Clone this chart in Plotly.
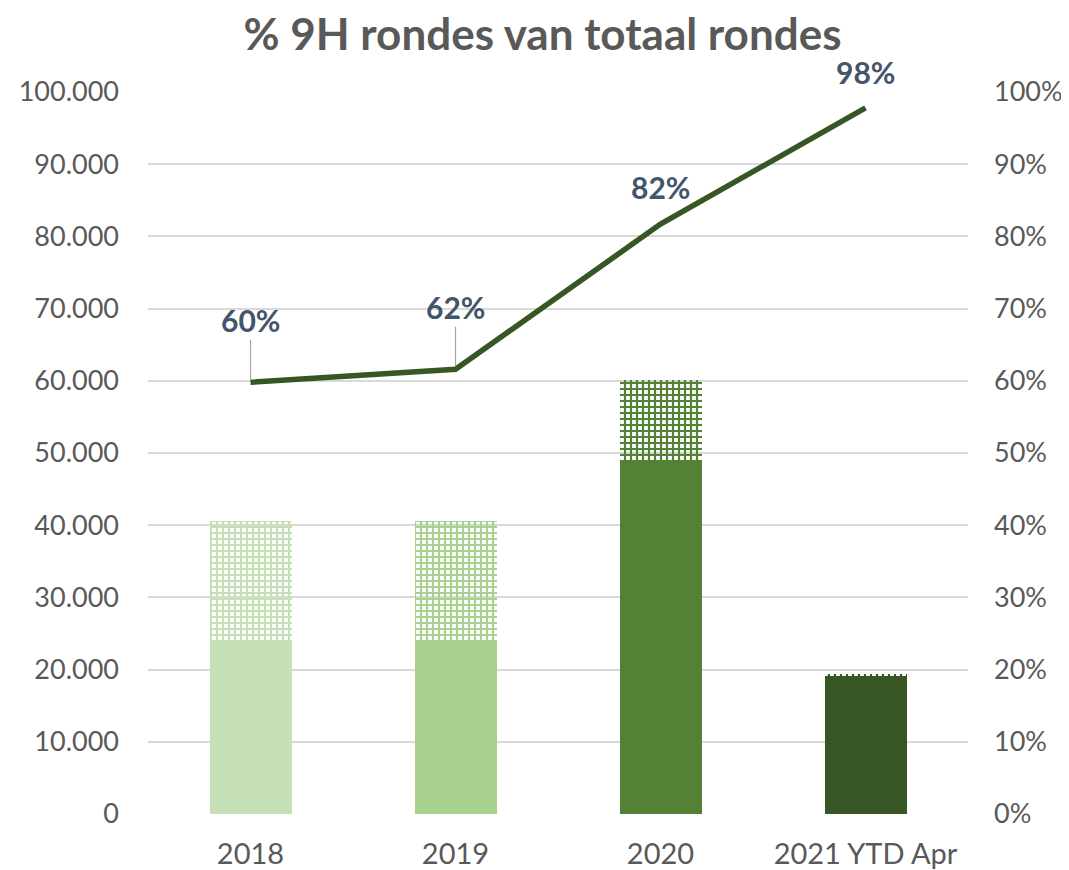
import plotly.graph_objects as go

categories = ["2018", "2019", "2020", "2021 YTD Apr"]
solid_values = [24100, 24100, 49000, 19000]
hatched_values = [16500, 16500, 11100, 400]
pct_9h = [0.598, 0.616, 0.817, 0.978]
pct_labels = ["60%", "62%", "82%", "98%"]
bar_colors = ["#C5E0B4", "#A9D18E", "#548235", "#375623"]
label_offsets = [-62, -62, -37, -36]
leader = [True, True, False, False]

xpos = list(range(len(categories)))

fig = go.Figure()
fig.add_trace(go.Bar(x=xpos, y=solid_values, marker=dict(color=bar_colors, line=dict(width=0)),
                     width=0.4, showlegend=False, hoverinfo="skip"))
fig.add_trace(go.Bar(x=xpos, y=hatched_values,
                     marker=dict(color=bar_colors, line=dict(width=0),
                                 pattern=dict(shape="+", fillmode="replace", fgcolor=bar_colors,
                                              bgcolor="white", size=6, solidity=0.6)),
                     width=0.4, showlegend=False, hoverinfo="skip"))
fig.add_trace(go.Scatter(x=xpos, y=pct_9h, yaxis="y2", mode="lines",
                         line=dict(color="#375623", width=5.5), showlegend=False, hoverinfo="skip"))

for xp, v, t, off, ld in zip(xpos, pct_9h, pct_labels, label_offsets, leader):
    fig.add_annotation(x=xp, y=v, xref="x", yref="y2", text="<b>%s</b>" % t,
                       showarrow=ld, arrowhead=0, arrowwidth=1.2, arrowcolor="#A6A6A6",
                       ax=0, ay=off, standoff=3, yshift=0 if ld else -off,
                       font=dict(size=30, color="#44546A", family="Lato"))

fig.update_layout(
    width=1069, height=870,
    margin=dict(l=140, r=109, t=84, b=64, autoexpand=False),
    barmode="stack",
    paper_bgcolor="white", plot_bgcolor="white",
    separators=",.",
    title=dict(text="<b>% 9H rondes van totaal rondes</b>", x=0.5, xanchor="center",
               y=0.97, yanchor="middle", font=dict(size=44, color="#595959", family="Lato")),
    font=dict(family="Lato", color="#595959", size=27),
    xaxis=dict(type="linear", range=[-0.5, 3.5], tickmode="array", tickvals=xpos, ticktext=categories,
               showgrid=False, showline=False, zeroline=False, ticks="", automargin=False,
               ticklabelstandoff=20, tickfont=dict(size=29, color="#595959")),
    yaxis=dict(range=[0, 100000], dtick=10000, tickformat=",d", showgrid=True, gridcolor="#D9D9D9",
               gridwidth=1.5, zeroline=False, showline=False, ticks="", ticklabelstandoff=28,
               automargin=False, tickfont=dict(size=27, color="#595959")),
    yaxis2=dict(range=[0, 1], dtick=0.1, tickformat=".0%", overlaying="y", side="right",
                showgrid=False, zeroline=False, showline=False, ticks="", ticklabelstandoff=25,
                automargin=False, tickfont=dict(size=27, color="#595959")),
)

fig.write_html("out.html")
